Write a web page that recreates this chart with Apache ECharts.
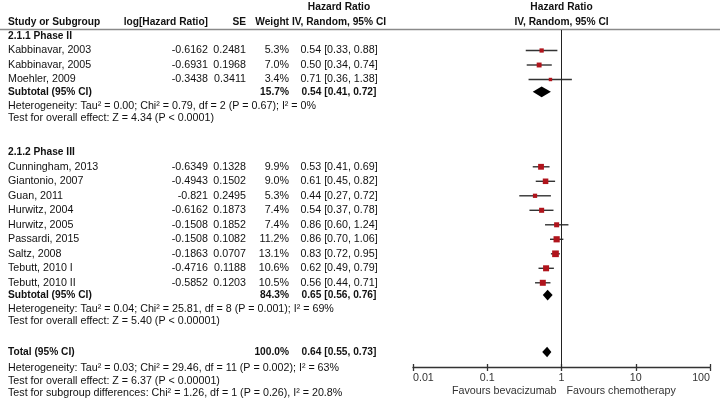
<!DOCTYPE html>
<html><head><meta charset="utf-8">
<script src="https://cdn.jsdelivr.net/npm/echarts@6/dist/echarts.min.js"></script>
<style>html,body{margin:0;padding:0;background:#fff}#c{width:720px;height:404px}</style>
</head><body><div id="c"></div>
<script>
// ---------------- data ----------------
const groupTitles = ['2.1.1 Phase II', '2.1.2 Phase III'];
const studyNames = ['Kabbinavar, 2003','Kabbinavar, 2005','Moehler, 2009','Cunningham, 2013','Giantonio, 2007','Guan, 2011','Hurwitz, 2004','Hurwitz, 2005','Passardi, 2015','Saltz, 2008','Tebutt, 2010 I','Tebutt, 2010 II'];
const studyGroup = [0,0,0,1,1,1,1,1,1,1,1,1];
const logHR = [-0.6162,-0.6931,-0.3438,-0.6349,-0.4943,-0.821,-0.6162,-0.1508,-0.1508,-0.1863,-0.4716,-0.5852];
const seValues = [0.2481,0.1968,0.3411,0.1328,0.1502,0.2495,0.1873,0.1852,0.1082,0.0707,0.1188,0.1203];
const weights = [5.3,7.0,3.4,9.9,9.0,5.3,7.4,7.4,11.2,13.1,10.6,10.5];
const hrValues = [0.54,0.50,0.71,0.53,0.61,0.44,0.54,0.86,0.86,0.83,0.62,0.56];
const ciLower = [0.33,0.34,0.36,0.41,0.45,0.27,0.37,0.60,0.70,0.72,0.49,0.44];
const ciUpper = [0.88,0.74,1.38,0.69,0.82,0.72,0.78,1.24,1.06,0.95,0.79,0.71];
const subWeights = [15.7, 84.3];
const subHR = [0.54, 0.65];
const subLower = [0.41, 0.56];
const subUpper = [0.72, 0.76];
const subHeterogeneity = ['Heterogeneity: Tau\u00b2 = 0.00; Chi\u00b2 = 0.79, df = 2 (P = 0.67); I\u00b2 = 0%', 'Heterogeneity: Tau\u00b2 = 0.04; Chi\u00b2 = 25.81, df = 8 (P = 0.001); I\u00b2 = 69%'];
const subEffect = ['Test for overall effect: Z = 4.34 (P < 0.0001)', 'Test for overall effect: Z = 5.40 (P < 0.00001)'];
const totalWeight = 100.0;
const totalHR = 0.64, totalLower = 0.55, totalUpper = 0.73;
const totalNotes = ['Heterogeneity: Tau\u00b2 = 0.03; Chi\u00b2 = 29.46, df = 11 (P = 0.002); I\u00b2 = 63%', 'Test for overall effect: Z = 6.37 (P < 0.00001)', 'Test for subgroup differences: Chi\u00b2 = 1.26, df = 1 (P = 0.26), I\u00b2 = 20.8%'];
const axisTicks = [0.01, 0.1, 1, 10, 100];
const favourLabels = ['Favours bevacizumab', 'Favours chemotherapy'];
const headerLeft = ['Study or Subgroup', 'log[Hazard Ratio]', 'SE', 'Weight'];
const headerHR = ['Hazard Ratio', 'IV, Random, 95% CI'];

// ---------------- layout ----------------
const W = 720, H = 404;
const ROW_H = 14.5, ROW0_Y = 36, PLOT_TOP = 30, AXIS_Y = 367.5;
const PLOT_LEFT = 413, PLOT_RIGHT = 10;
const FONT = "'Liberation Sans', Arial, sans-serif";
const TXT = '#111';
const FS = 10.7, FSB = 10.2;
const COL = { name: [8, 'left'], lhr: [208, 'right'], se: [246, 'right'], w: [289, 'right'], ci: [339, 'center'] };

const f2 = v => v.toFixed(2);
const ciText = (h, l, u) => f2(h) + ' [' + f2(l) + ', ' + f2(u) + ']';

const texts = [];   // {row, col, text, bold}
const studyMarks = []; // [hr, row, lo, hi, w]
const diamonds = [];   // [hr, row, lo, hi]
let r = 0;
groupTitles.forEach((g, gi) => {
  if (gi > 0) r += 2.35;
  texts.push({ row: r, col: 'name', text: g, bold: true });
  studyNames.forEach((n, i) => {
    if (studyGroup[i] !== gi) return;
    r += 1;
    texts.push({ row: r, col: 'name', text: n });
    texts.push({ row: r, col: 'lhr', text: String(logHR[i]) });
    texts.push({ row: r, col: 'se', text: String(seValues[i]) });
    texts.push({ row: r, col: 'w', text: weights[i].toFixed(1) + '%' });
    texts.push({ row: r, col: 'ci', text: ciText(hrValues[i], ciLower[i], ciUpper[i]) });
    studyMarks.push([hrValues[i], r, ciLower[i], ciUpper[i], weights[i]]);
  });
  r += 0.85;
  texts.push({ row: r, col: 'name', text: 'Subtotal (95% CI)', bold: true });
  texts.push({ row: r, col: 'w', text: subWeights[gi].toFixed(1) + '%', bold: true });
  texts.push({ row: r, col: 'ci', text: ciText(subHR[gi], subLower[gi], subUpper[gi]), bold: true });
  diamonds.push([subHR[gi], r, subLower[gi], subUpper[gi]]);
  r += 0.95;
  texts.push({ row: r, col: 'name', text: subHeterogeneity[gi] });
  r += 0.87;
  texts.push({ row: r, col: 'name', text: subEffect[gi] });
});
r += 2.1;
texts.push({ row: r, col: 'name', text: 'Total (95% CI)', bold: true });
texts.push({ row: r, col: 'w', text: totalWeight.toFixed(1) + '%', bold: true });
texts.push({ row: r, col: 'ci', text: ciText(totalHR, totalLower, totalUpper), bold: true });
diamonds.push([totalHR, r, totalLower, totalUpper]);
r += 1.1;
texts.push({ row: r, col: 'name', text: totalNotes[0] });
r += 0.88;
texts.push({ row: r, col: 'name', text: totalNotes[1] });
r += 0.88;
texts.push({ row: r, col: 'name', text: totalNotes[2] });

const yMin = (PLOT_TOP - ROW0_Y) / ROW_H;
const yMax = (AXIS_Y - ROW0_Y) / ROW_H;

const chart = echarts.init(document.getElementById('c'), null, { renderer: 'canvas' });

const logAxisBase = {
  type: 'log', logBase: 10, min: axisTicks[0], max: axisTicks[axisTicks.length - 1],
  position: 'bottom', gridIndex: 0, splitLine: { show: false }
};

const option = {
  animation: false,
  backgroundColor: '#fff',
  textStyle: { fontFamily: FONT },
  grid: [{ left: PLOT_LEFT, right: PLOT_RIGHT, top: PLOT_TOP, bottom: H - AXIS_Y, containLabel: false }],
  xAxis: [
    Object.assign({}, logAxisBase, {
      axisLine: { show: true, onZero: false, lineStyle: { color: '#333', width: 1.3 } },
      axisTick: { show: true, length: 3.5, lineStyle: { color: '#333', width: 1.3 } },
      axisLabel: {
        show: true, fontSize: FS, color: '#333', margin: 5.5, fontFamily: FONT,
        alignMinLabel: 'left', alignMaxLabel: 'right',
        formatter: v => String(parseFloat(Number(v).toPrecision(3)))
      }
    }),
    Object.assign({}, logAxisBase, {
      axisLine: { show: false, onZero: false },
      axisTick: { show: true, inside: true, length: 3.5, lineStyle: { color: '#333', width: 1.3 } },
      axisLabel: { show: false }
    })
  ],
  yAxis: [{ type: 'value', min: yMin, max: yMax, inverse: true, show: false, gridIndex: 0, splitLine: { show: false } }],
  series: [
    {
      type: 'custom', name: 'studies', coordinateSystem: 'cartesian2d', xAxisIndex: 0, yAxisIndex: 0,
      clip: false, silent: true,
      encode: { x: [0, 2, 3], y: 1 },
      data: studyMarks,
      renderItem: (params, api) => {
        const c = api.coord([api.value(0), api.value(1)]);
        const lo = api.coord([api.value(2), api.value(1)]);
        const hi = api.coord([api.value(3), api.value(1)]);
        const s = 1.85 * Math.sqrt(api.value(4));
        return {
          type: 'group', children: [
            { type: 'line', shape: { x1: lo[0], y1: lo[1], x2: hi[0], y2: hi[1] }, style: { stroke: '#333', lineWidth: 1.4 } },
            { type: 'rect', shape: { x: c[0] - s / 2, y: c[1] - s / 2, width: s, height: s }, style: { fill: '#b0141c' } }
          ]
        };
      },
      markLine: {
        silent: true, symbol: 'none', animation: false,
        label: { show: false },
        lineStyle: { color: '#222', width: 1, type: 'solid' },
        data: [{ xAxis: 1 }]
      }
    },
    {
      type: 'custom', name: 'pooled', coordinateSystem: 'cartesian2d', xAxisIndex: 0, yAxisIndex: 0,
      clip: false, silent: true,
      encode: { x: [0, 2, 3], y: 1 },
      data: diamonds,
      renderItem: (params, api) => {
        const c = api.coord([api.value(0), api.value(1)]);
        const lo = api.coord([api.value(2), api.value(1)]);
        const hi = api.coord([api.value(3), api.value(1)]);
        const h = 5.3;
        return {
          type: 'polygon',
          shape: { points: [[lo[0], c[1]], [c[0], c[1] - h], [hi[0], c[1]], [c[0], c[1] + h]] },
          style: { fill: '#000' }
        };
      }
    },
    {
      type: 'custom', name: 'table', coordinateSystem: 'cartesian2d', xAxisIndex: 0, yAxisIndex: 0,
      clip: false, silent: true,
      encode: { x: 0, y: 1 },
      data: texts.map((t, i) => [1, t.row, i]),
      renderItem: (params, api) => {
        const t = texts[api.value(2)];
        const y = api.coord([1, api.value(1)])[1];
        const col = COL[t.col];
        return {
          type: 'text',
          style: {
            text: t.text, x: col[0], y: y, align: col[1], verticalAlign: 'middle',
            fontSize: t.bold ? FSB : FS, fontWeight: t.bold ? 'bold' : 'normal',
            fontFamily: FONT, fill: TXT
          }
        };
      }
    }
  ]
};
chart.setOption(option);

const x1 = chart.convertToPixel({ xAxisIndex: 0 }, 1);
const hdr = (text, x, y, align, bold) => ({
  type: 'text', silent: true, x: x, y: y,
  style: { text: text, align: align, verticalAlign: 'middle', fontSize: bold ? FSB : FS, fontWeight: bold ? 'bold' : 'normal', fontFamily: FONT, fill: TXT }
});
chart.setOption({
  graphic: [
    hdr(headerLeft[0], COL.name[0], 22, 'left', true),
    hdr(headerLeft[1], COL.lhr[0], 22, 'right', true),
    hdr(headerLeft[2], COL.se[0], 22, 'right', true),
    hdr(headerLeft[3], COL.w[0], 22, 'right', true),
    hdr(headerHR[0], COL.ci[0], 7.5, 'center', true),
    hdr(headerHR[1], COL.ci[0], 22, 'center', true),
    hdr(headerHR[0], x1, 7.5, 'center', true),
    hdr(headerHR[1], x1, 22, 'center', true),
    { type: 'line', silent: true, shape: { x1: 0, y1: 29.5, x2: W, y2: 29.5 }, style: { stroke: '#8a8a8a', lineWidth: 1.6 } },
    { type: 'text', silent: true, x: x1 - 5, y: 391, style: { text: favourLabels[0], align: 'right', verticalAlign: 'middle', fontSize: FS, fontFamily: FONT, fill: '#333' } },
    { type: 'text', silent: true, x: x1 + 5, y: 391, style: { text: favourLabels[1], align: 'left', verticalAlign: 'middle', fontSize: FS, fontFamily: FONT, fill: '#333' } }
  ]
});
</script>
</body></html>
